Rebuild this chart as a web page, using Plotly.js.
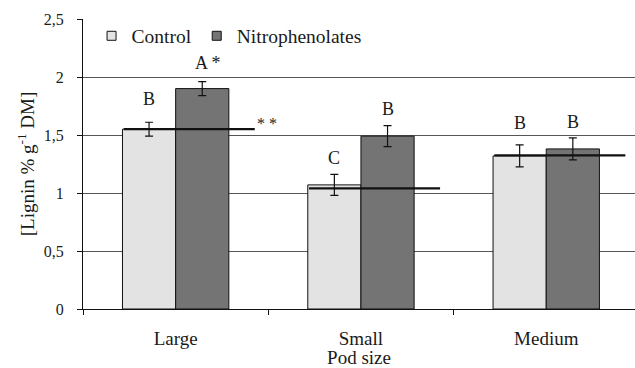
<!DOCTYPE html>
<html>
<head>
<meta charset="utf-8">
<script src="https://cdn.plot.ly/plotly-3.0.1.min.js"></script>
<style>html,body{margin:0;padding:0;background:#fff;}#chart{width:635px;height:368px;}</style>
</head>
<body>
<div id="chart"></div>
<script>
// ---- data ----
const categories = ["Large", "Small", "Medium"];
const controlValues = [1.55, 1.07, 1.32];
const controlErrors = [0.06, 0.09, 0.095];
const nitroValues = [1.90, 1.49, 1.38];
const nitroErrors = [0.06, 0.09, 0.095];
const meanLine = [1.55, 1.04, 1.325];
const controlLetters = ["B", "C", "B"];
const nitroLetters = ["A *", "B", "B"];
const controlLetterY = [1.81, 1.30, 1.60];
const nitroLetterY = [2.125, 1.724, 1.615];
const yTickVals = [0, 0.5, 1, 1.5, 2, 2.5];
const yTickText = ["0", "0,5", "1", "1,5", "2", "2,5"];
const seriesNames = ["Control", "Nitrophenolates"];

// ---- styling ----
const FONT = "'Liberation Serif', 'Times New Roman', serif";
const TXT = "#1a1a1a";
const C_CTRL = "#e3e3e3";
const C_NITRO = "#747474";
const BARGAP = 0.426;
const HALF = (1 - BARGAP) / 4; // half bar width in category units
const XRANGE = [-0.5, 2.479];
const LBL = 19;

const errStyle = {type: "data", visible: true, color: "#111", thickness: 1.2, width: 4};

const traces = [
  {type: "bar", x: categories, y: controlValues, name: seriesNames[0], showlegend: false,
   marker: {color: C_CTRL, line: {color: "#111", width: 1}},
   error_y: Object.assign({array: controlErrors}, errStyle), hoverinfo: "y"},
  {type: "bar", x: categories, y: nitroValues, name: seriesNames[1], showlegend: false,
   marker: {color: C_NITRO, line: {color: "#111", width: 1}},
   error_y: Object.assign({array: nitroErrors}, errStyle), hoverinfo: "y"},
  // legend entries
  {type: "scatter", mode: "markers", x: [null], y: [null], name: seriesNames[0], xaxis: "x2",
   marker: {symbol: "square", size: 9, color: C_CTRL, line: {color: "#111", width: 1}}},
  {type: "scatter", mode: "markers", x: [null], y: [null], name: seriesNames[1], xaxis: "x2",
   marker: {symbol: "square", size: 9, color: C_NITRO, line: {color: "#111", width: 1}}}
];

// mean lines
meanLine.forEach((v, i) => {
  traces.push({type: "scatter", mode: "lines", xaxis: "x2", showlegend: false, hoverinfo: "skip",
    x: [i - 0.28, i + 0.427], y: [v, v], line: {color: "#111", width: 2.2}});
});

const annotations = [];
categories.forEach((c, i) => {
  annotations.push({xref: "x2", yref: "y", x: i - HALF, y: controlLetterY[i], text: controlLetters[i],
    showarrow: false, font: {family: FONT, size: 18, color: TXT}});
  annotations.push({xref: "x2", yref: "y", x: i + HALF, y: nitroLetterY[i], text: nitroLetters[i],
    showarrow: false, xshift: (i === 0 ? 6 : 0), font: {family: FONT, size: 18, color: TXT}});
});
annotations.push({xref: "x2", yref: "y", x: 0.427, y: meanLine[0], text: "* *", xanchor: "left",
  xshift: 0, yshift: 6, showarrow: false, font: {family: FONT, size: 16, color: TXT}});

const layout = {
  width: 635, height: 368,
  margin: {l: 83, r: 0, t: 19, b: 59},
  paper_bgcolor: "#fff", plot_bgcolor: "#fff",
  separators: ", ",
  font: {family: FONT, size: 16, color: TXT},
  barmode: "group", bargap: BARGAP, bargroupgap: 0,
  showlegend: true,
  legend: {orientation: "h", x: 0.0155, xanchor: "left", y: 0.941, yanchor: "middle",
    bgcolor: "rgba(0,0,0,0)", font: {family: FONT, size: 19.5, color: TXT},
    itemwidth: 30, tracegroupgap: 0},
  xaxis: {type: "category", range: XRANGE, tickson: "boundaries", ticks: "outside", ticklen: 5,
    tickcolor: "#111", tickwidth: 1, showline: true, linecolor: "#111", linewidth: 1,
    showgrid: false, zeroline: false, ticklabelstandoff: 12,
    tickfont: {family: FONT, size: LBL, color: TXT},
    title: {text: "Pod size", font: {family: FONT, size: LBL, color: TXT}, standoff: 10}},
  xaxis2: {overlaying: "x", range: XRANGE, visible: false, showgrid: false, zeroline: false},
  yaxis: {range: [0, 2.5], tickvals: yTickVals, ticktext: yTickText, ticks: "outside", ticklen: 5,
    tickcolor: "#111", tickwidth: 1, showline: true, linecolor: "#111", linewidth: 1,
    showgrid: true, gridcolor: "#555", gridwidth: 1, zeroline: false, ticklabelstandoff: 10,
    tickfont: {family: FONT, size: 16, color: TXT},
    title: {text: "[Lignin % g<sup>-1</sup> DM]", font: {family: FONT, size: LBL, color: TXT}, standoff: 4}},
  annotations: annotations
};

Plotly.newPlot("chart", traces, layout, {displayModeBar: false, staticPlot: true});
</script>
</body>
</html>
